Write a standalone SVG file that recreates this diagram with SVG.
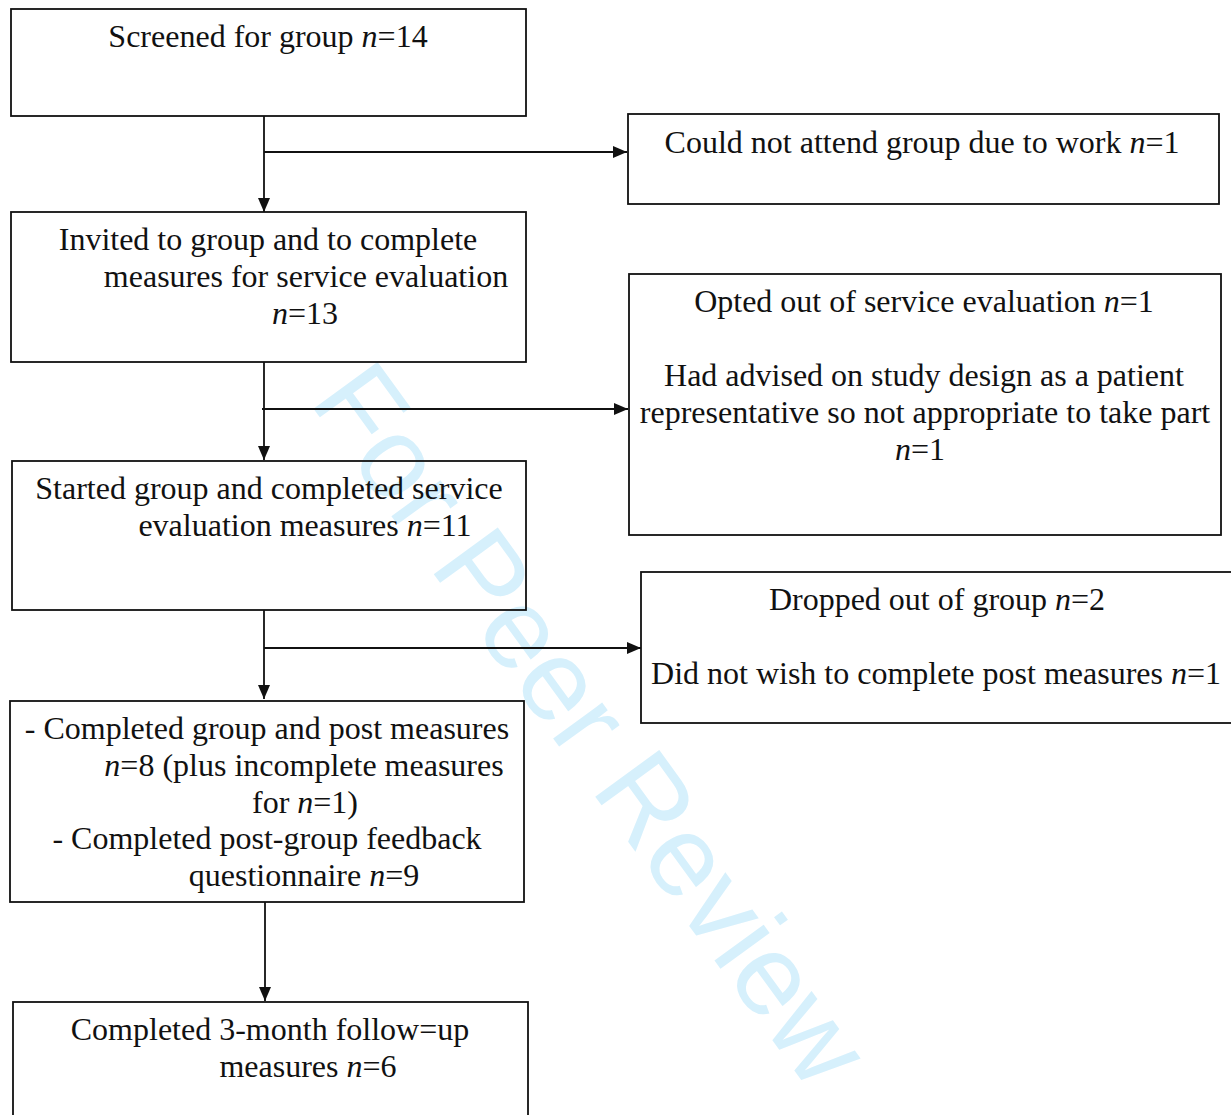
<svg xmlns="http://www.w3.org/2000/svg" width="1231" height="1115" viewBox="0 0 1231 1115">
<style>
.box{fill:none;stroke:#111;stroke-width:1.8}
.t{font-family:"Liberation Serif","Times New Roman",serif;font-size:32px;fill:#111;text-anchor:middle}
.i{font-style:italic}
.c{stroke:#111;stroke-width:1.8;fill:none}
.wm{font-family:"Liberation Sans",Arial,sans-serif;font-size:115px;fill:#d6f0fc;text-anchor:middle}
</style>
<defs>
<marker id="ah" viewBox="0 0 14 12" refX="14" refY="6" markerWidth="14" markerHeight="12" markerUnits="userSpaceOnUse" orient="auto">
<path d="M0,0 L14,6 L0,12 Z" fill="#111"/>
</marker>
</defs>
<rect width="1231" height="1115" fill="#fff"/>
<text class="wm" transform="translate(592,724) rotate(54)" x="0" y="40">For Peer Review</text>

<g id="n1">
<rect class="box" x="11" y="9" width="515" height="107"/>
<text class="t" x="268" y="47">Screened for group <tspan class="i">n</tspan>=14</text>
</g>
<g id="n2">
<rect class="box" x="628" y="114" width="591" height="90"/>
<text class="t" x="922" y="153">Could not attend group due to work <tspan class="i">n</tspan>=1</text>
</g>
<g id="n3">
<rect class="box" x="11" y="212" width="515" height="150"/>
<text class="t" x="268" y="250">Invited to group and to complete</text>
<text class="t" x="306" y="287">measures for service evaluation</text>
<text class="t" x="305" y="324"><tspan class="i">n</tspan>=13</text>
</g>
<g id="n4">
<rect class="box" x="629" y="274" width="592" height="261"/>
<text class="t" x="924" y="312">Opted out of service evaluation <tspan class="i">n</tspan>=1</text>
<text class="t" x="924" y="386">Had advised on study design as a patient</text>
<text class="t" x="925" y="423">representative so not appropriate to take part</text>
<text class="t" x="920" y="460"><tspan class="i">n</tspan>=1</text>
</g>
<g id="n5">
<rect class="box" x="12" y="461" width="514" height="149"/>
<text class="t" x="269" y="499">Started group and completed service</text>
<text class="t" x="305" y="536">evaluation measures <tspan class="i">n</tspan>=11</text>
</g>
<g id="n6">
<rect class="box" x="641" y="572" width="595" height="151"/>
<text class="t" x="937" y="610">Dropped out of group <tspan class="i">n</tspan>=2</text>
<text class="t" x="936" y="684">Did not wish to complete post measures <tspan class="i">n</tspan>=1</text>
</g>
<g id="n7">
<rect class="box" x="10" y="701" width="514" height="201"/>
<text class="t" x="267" y="739">- Completed group and post measures</text>
<text class="t" x="304" y="776"><tspan class="i">n</tspan>=8 (plus incomplete measures</text>
<text class="t" x="305" y="813">for <tspan class="i">n</tspan>=1)</text>
<text class="t" x="267" y="849">- Completed post-group feedback</text>
<text class="t" x="304" y="886">questionnaire <tspan class="i">n</tspan>=9</text>
</g>
<g id="n8">
<rect class="box" x="13" y="1002" width="515" height="125"/>
<text class="t" x="270" y="1040">Completed 3-month follow=up</text>
<text class="t" x="308" y="1077">measures <tspan class="i">n</tspan>=6</text>
</g>

<g id="connectors">
<line class="c" x1="264" y1="116" x2="264" y2="212" marker-end="url(#ah)"/>
<line class="c" x1="264" y1="152" x2="627" y2="152" marker-end="url(#ah)"/>
<line class="c" x1="264" y1="362" x2="264" y2="460" marker-end="url(#ah)"/>
<line class="c" x1="262" y1="409" x2="628" y2="409" marker-end="url(#ah)"/>
<line class="c" x1="264" y1="610" x2="264" y2="699" marker-end="url(#ah)"/>
<line class="c" x1="264" y1="648" x2="641" y2="648" marker-end="url(#ah)"/>
<line class="c" x1="265" y1="902" x2="265" y2="1001" marker-end="url(#ah)"/>
</g>
</svg>
